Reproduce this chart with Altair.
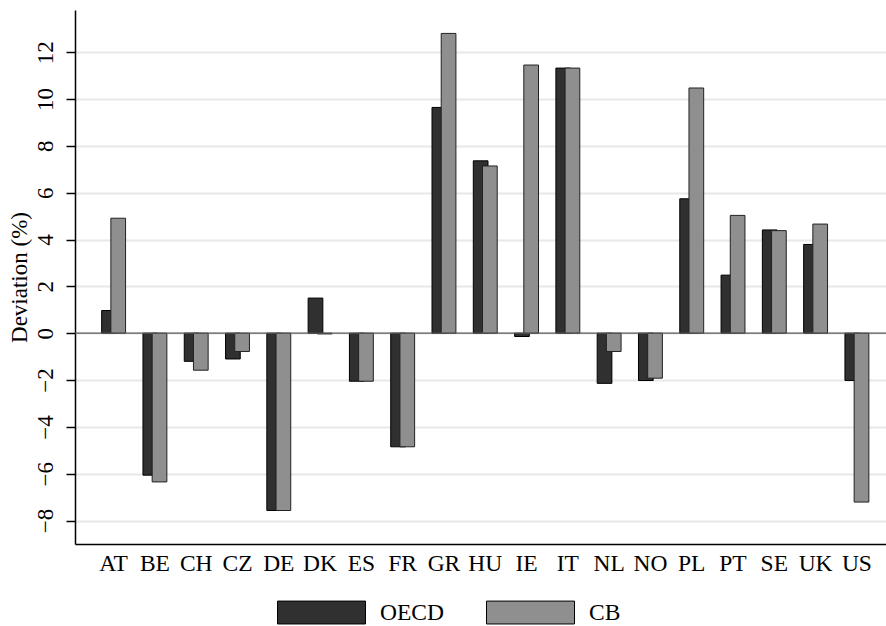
import altair as alt
import pandas as pd

countries = ["AT", "BE", "CH", "CZ", "DE", "DK", "ES", "FR", "GR", "HU",
             "IE", "IT", "NL", "NO", "PL", "PT", "SE", "UK", "US"]
oecd = [0.97, -6.06, -1.20, -1.10, -7.57, 1.50, -2.05, -4.85, 9.64, 7.36,
        -0.14, 11.32, -2.14, -2.02, 5.74, 2.48, 4.41, 3.79, -2.02]
cb = [4.91, -6.35, -1.58, -0.78, -7.57, -0.03, -2.05, -4.85, 12.80, 7.14,
      11.45, 11.32, -0.78, -1.92, 10.47, 5.03, 4.38, 4.66, -7.21]
series = ["OECD", "CB"]
series_colors = ["#303030", "#8f8f8f"]
y_ticks = [-8, -6, -4, -2, 0, 2, 4, 6, 8, 10, 12]

rows = []
for c, v in zip(countries, oecd):
    rows.append({"country": c, "series": "OECD", "value": v})
for c, v in zip(countries, cb):
    rows.append({"country": c, "series": "CB", "value": v})
df = pd.DataFrame(rows)

FONT = "Liberation Serif"

x_enc = alt.X("country:N", sort=countries, title=None,
              scale=alt.Scale(paddingInner=0, paddingOuter=0.32, align=0.68),
              axis=alt.Axis(labelAngle=0, ticks=False, tickSize=0, labelPadding=7,
                            labelFont=FONT, labelFontSize=23.5, labelColor="black",
                            domainColor="black", domainWidth=1.5, grid=False))
y_enc = alt.Y("value:Q", title="Deviation (%)",
              scale=alt.Scale(domain=[-9, 13.8], nice=False, zero=False),
              axis=alt.Axis(values=y_ticks, labelAngle=270, tickSize=9, tickColor="black",
                            tickWidth=1.5, domainColor="black", domainWidth=1.5,
                            grid=True, gridColor="#e8e8e8", gridWidth=2,
                            labelFont=FONT, labelFontSize=23, labelColor="black",
                            labelPadding=9, titleFont=FONT, titleFontSize=23,
                            titleFontWeight="normal", titleColor="black", titlePadding=3))
color_enc = alt.Color("series:N",
                      scale=alt.Scale(domain=series, range=series_colors),
                      legend=alt.Legend(orient="none", legendX=202, legendY=558,
                                        direction="horizontal", title=None,
                                        symbolType="M-1,-0.26L1,-0.26L1,0.26L-1,0.26Z",
                                        symbolSize=7744, symbolStrokeColor="black",
                                        symbolStrokeWidth=1, symbolOpacity=1,
                                        labelFont=FONT, labelFontSize=23.5, labelColor="black",
                                        labelOffset=14, columnPadding=40, padding=0))

base = alt.Chart(df)

zero = alt.Chart(pd.DataFrame({"v": [0]})).mark_rule(color="#5a5a5a", strokeWidth=1.2).encode(
    y=alt.Y("v:Q", scale=alt.Scale(domain=[-9, 13.8], nice=False, zero=False))
)

bars_oecd = base.transform_filter(alt.datum.series == "OECD").mark_bar(
    width=14.7, xOffset=-4.6, stroke="black", strokeWidth=1, opacity=1
).encode(x=x_enc, y=y_enc, y2=alt.datum(0), color=color_enc)

bars_cb = base.transform_filter(alt.datum.series == "CB").mark_bar(
    width=14.7, xOffset=4.6, stroke="#222222", strokeWidth=1, opacity=1
).encode(x=x_enc, y=y_enc, y2=alt.datum(0), color=color_enc)

chart = alt.layer(bars_oecd, bars_cb, zero).properties(
    width=811, height=534,
    autosize=alt.AutoSizeParams(type="none"),
    padding={"left": 75, "top": 10, "right": 0, "bottom": 82},
    background="white",
).configure_view(stroke=None)

chart.save("out.html", embed_options={"renderer": "svg", "actions": False})
